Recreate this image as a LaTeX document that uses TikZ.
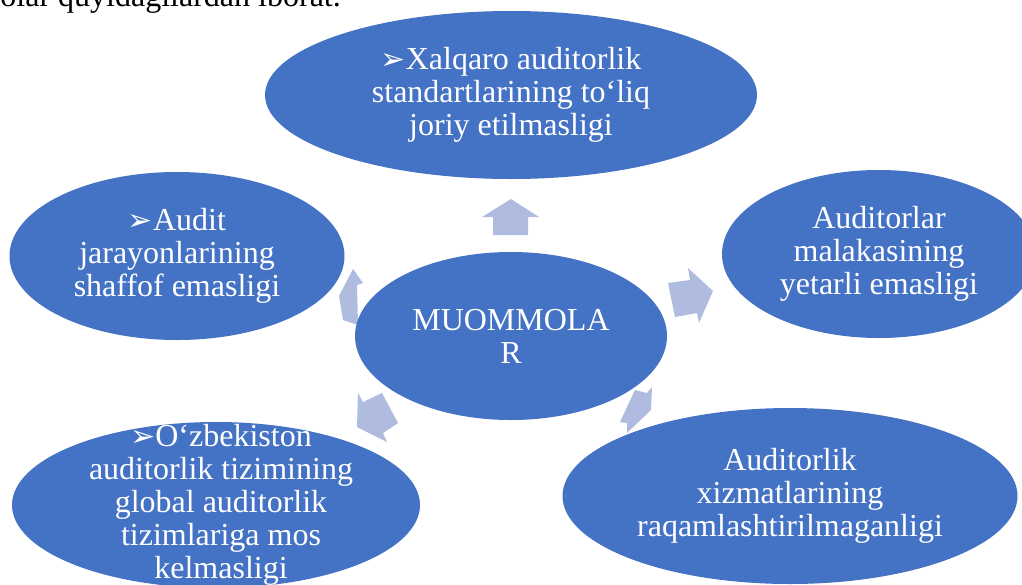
\documentclass[tikz,border=0pt]{standalone}
\usepackage{fontspec}
\setmainfont{Liberation Serif}
\newfontfamily\dingfont{DejaVu Sans}
\usetikzlibrary{shapes}
\definecolor{ellblue}{RGB}{68,114,196}
\definecolor{arrblue}{RGB}{175,188,223}
\tikzstyle{problem} = [ellipse, fill=ellblue, inner sep=0pt]
\tikzstyle{problemtext} = [text=white, align=center, inner sep=0pt, font=\fontsize{32}{33}\selectfont]
\tikzstyle{blockarrow} = [fill=arrblue]
\newcommand{\pointer}{{\dingfont\fontsize{30}{30}\selectfont ➢}}

\begin{document}
\begin{tikzpicture}[x=1pt,y=-1pt]
    \useasboundingbox (0,0) rectangle (1022,584);
    \clip (0,0) rectangle (1022,584);
    \node [anchor=base east, inner sep=0pt, font=\fontsize{32}{33}\selectfont] (intro) at (341,6) {olar quyidagilardan iborat.};

    \fill [blockarrow] (511,199) -- (539,217) -- (528,217) -- (528,235) -- (493,235) -- (493,217) -- (482,217) -- cycle;
    \fill [blockarrow] (668,283) -- (690,280) -- (688,268) -- (713,291) -- (699,323) -- (697,313) -- (675,317) -- cycle;
    \fill [blockarrow] (353,269) -- (363,283) -- (357,285) -- (358,325) -- (343,320) -- (339,296) -- cycle;
    \fill [blockarrow] (358,393) -- (363,402) -- (382,393) -- (398,423) -- (383,433) -- (387,442) -- (357,427) -- cycle;
    \fill [blockarrow] (635,390) -- (647,393) -- (652,387) -- (651,410) -- (627,433) -- (627,423) -- (620,422) -- cycle;

    \node [problem, minimum width=492, minimum height=168] (standart) at (511,95) {};
    \node [problem, minimum width=335, minimum height=168] (shaffof) at (177,256) {};
    \node [problem, minimum width=314, minimum height=168] (malaka) at (879,254) {};
    \node [problem, minimum width=455, minimum height=176] (raqam) at (790,496) {};
    \node [problem, minimum width=408, minimum height=166] (global) at (216,505) {};
    \node [problem, minimum width=312, minimum height=168] (muammo) at (511,336) {};

    \node [problemtext] at (standart.center) {\pointer Xalqaro auditorlik\\standartlarining to‘liq\\joriy etilmasligi};
    \node [problemtext] at (shaffof.center) {\pointer Audit\\jarayonlarining\\shaffof emasligi};
    \node [problemtext] at (malaka.center) {Auditorlar\\malakasining\\yetarli emasligi};
    \node [problemtext] at (raqam.center) {Auditorlik\\xizmatlarining\\raqamlashtirilmaganligi};
    \node [problemtext] at ([xshift=5]global.center) {\pointer O‘zbekiston\\auditorlik tizimining\\global auditorlik\\tizimlariga mos\\kelmasligi};
    \node [problemtext] at (muammo.center) {MUOMMOLA\\R};
\end{tikzpicture}
\end{document}
